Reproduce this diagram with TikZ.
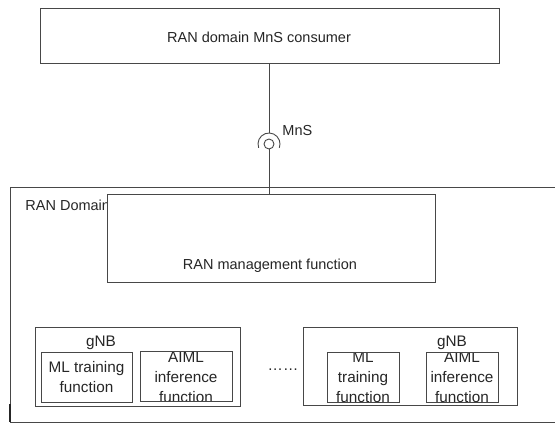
\documentclass[tikz,border=0pt]{standalone}
\usepackage{fontspec}
\setmainfont{Liberation Sans}
\begin{document}
\begin{tikzpicture}[x=1pt,y=-1pt,
  line width=0.9pt,
  lc/.style={draw=black!72},
  box/.style={lc, rectangle, inner sep=0pt, fill=white},
  txt/.style={text=black!85, inner sep=0pt, font=\fontsize{14.5}{20}\selectfont},
  itxt/.style={text=black!85, inner sep=0pt, align=center, font=\fontsize{15.3}{20}\selectfont}
]
\useasboundingbox (0,0) rectangle (555,423);
% outer RAN domain
\draw[lc] (556,187) -- (10.5,187) -- (10.5,422) -- (556,422);
\draw[black!85, line width=1.4pt] (10,404) -- (10,422);
\node[txt, anchor=west] (dom) at (25,205) {RAN Domain};
% consumer
\node[box, minimum width=459pt, minimum height=55pt] (cons) at (269.5,35.5) {};
\node[txt] (consT) at (259,37) {RAN domain MnS consumer};
% management function
\node[box, minimum width=328pt, minimum height=88pt] (mgmt) at (271,238) {};
\node[txt] (mgmtT) at (270,266) {RAN management function};
% interface
\coordinate (sock) at (269,144);
\node[lc, circle, minimum size=10pt, inner sep=0pt] (ball) at (sock) {};
\coordinate (arctop) at (269,133);
\draw[lc] (269,63) -- (arctop);
\draw[lc] ([shift={(160:11)}]sock) arc[start angle=160,end angle=380,radius=11];
\draw[lc] (ball.south) -- (269,194);
\node[txt, anchor=west] (mns) at (282,131) {MnS};
% gNB 1
\node[box, minimum width=205pt, minimum height=79pt] (g1) at (137.5,366.5) {};
\node[itxt] (g1T) at (101,343) {gNB};
\begin{scope}
\clip (41,352) rectangle (132,402);
\node[itxt] (ml1T) at (86.5,377) {ML training\\function};
\end{scope}
\node[box, fill=none, minimum width=91pt, minimum height=50pt] (ml1) at (86.5,377) {};
\begin{scope}
\clip (140,351) rectangle (232,401);
\node[itxt] (ai1T) at (186,377) {AIML\\inference\\function};
\end{scope}
\node[box, fill=none, minimum width=92pt, minimum height=50pt] (ai1) at (186,376) {};
% dots
\node[itxt] (dots) at (283,370) {……};
% gNB 2
\node[box, minimum width=214pt, minimum height=78pt] (g2) at (410,366) {};
\node[itxt] (g2T) at (452,343) {gNB};
\begin{scope}
\clip (327,352) rectangle (399,402);
\node[itxt] (ml2T) at (363,377) {ML\\training\\function};
\end{scope}
\node[box, fill=none, minimum width=72pt, minimum height=50pt] (ml2) at (363,377) {};
\begin{scope}
\clip (426,352) rectangle (498,402);
\node[itxt] (ai2T) at (462,377) {AIML\\inference\\function};
\end{scope}
\node[box, fill=none, minimum width=72pt, minimum height=50pt] (ai2) at (462,377) {};
\end{tikzpicture}
\end{document}
